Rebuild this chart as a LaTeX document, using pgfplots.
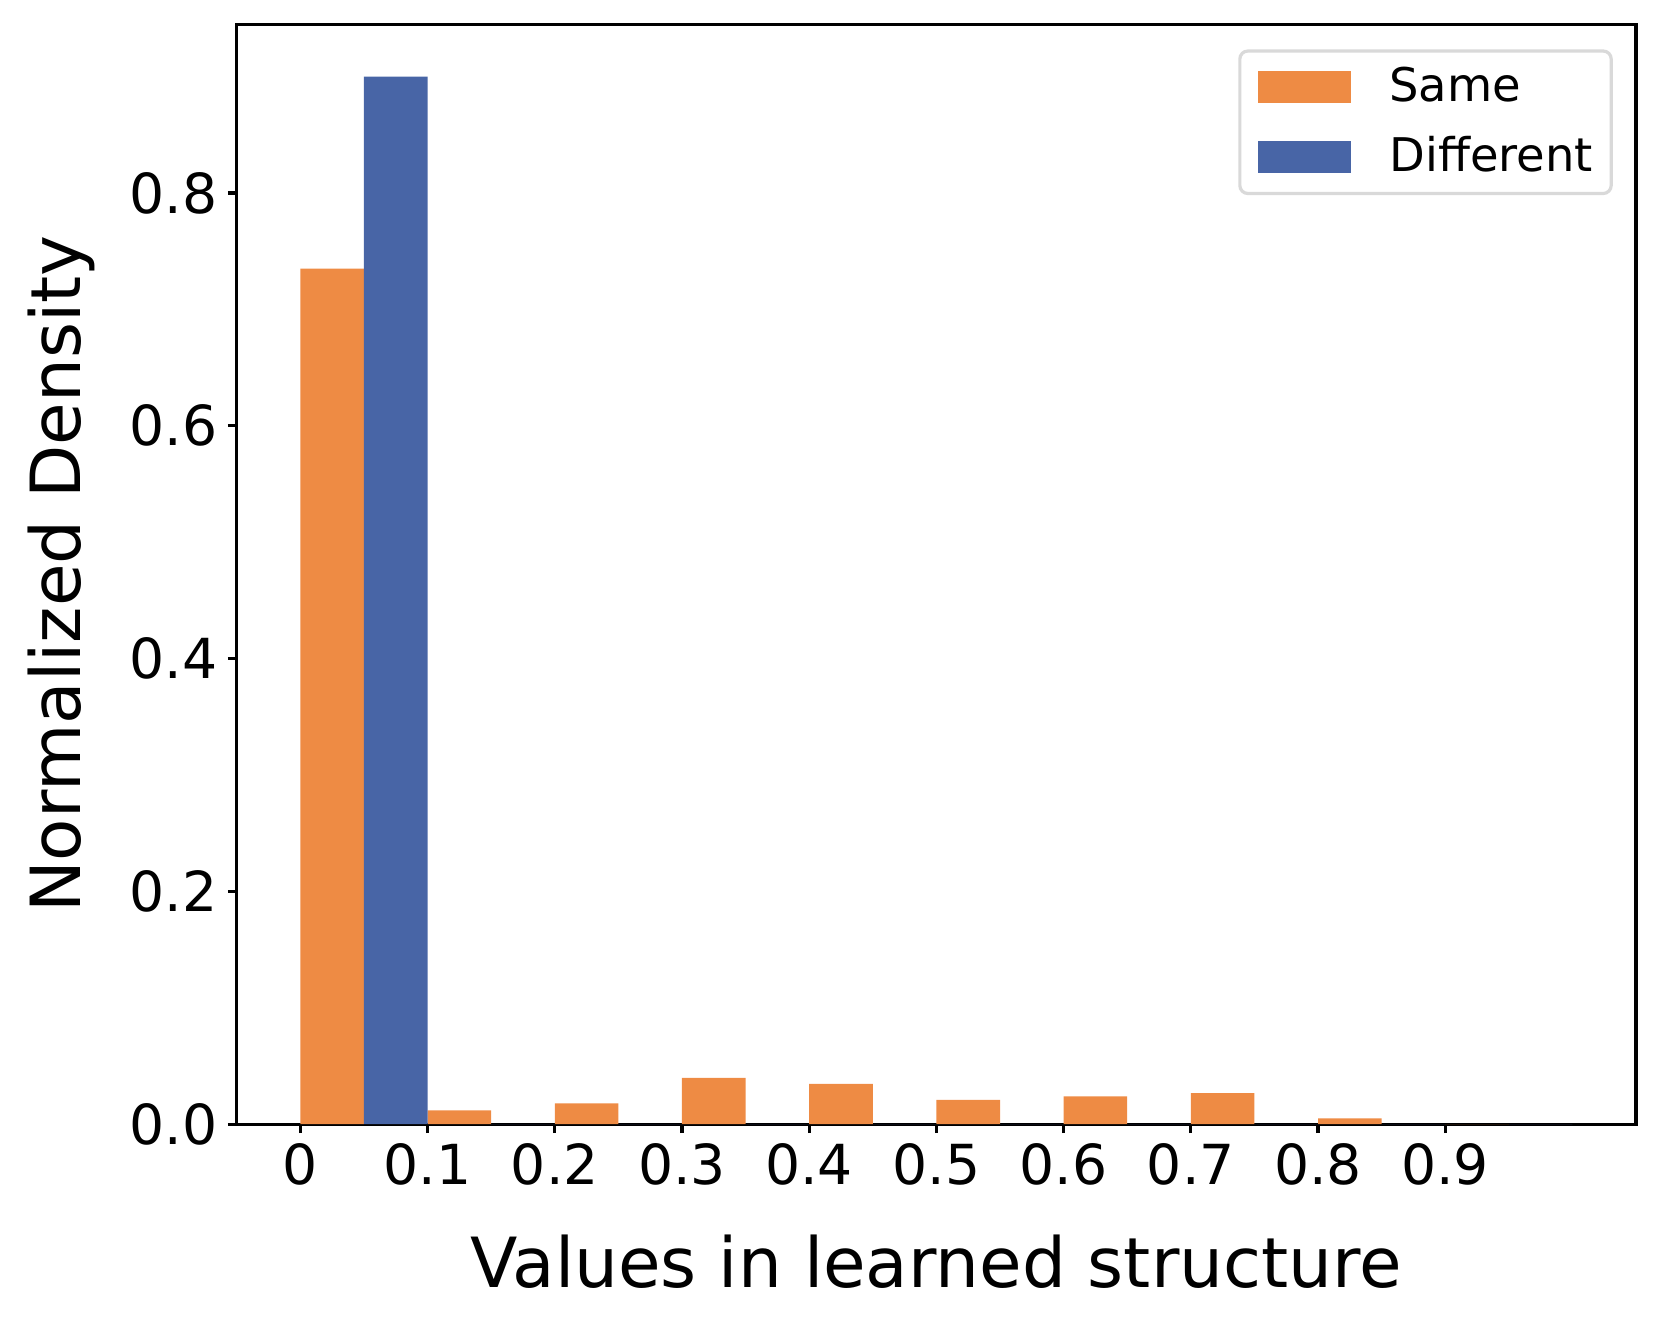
\documentclass[border=0pt]{standalone}
\usepackage{fontspec}
\setmainfont{DejaVu Sans}
\usepackage{pgfplots}
\pgfplotsset{compat=1.18}
\definecolor{sameorange}{RGB}{238,139,68}
\definecolor{diffblue}{RGB}{72,101,166}
\begin{document}
\begin{tikzpicture}
\begin{axis}[
    scale only axis,
    width=349.8pt, height=275pt,
    xmin=-0.05, xmax=1.05, ymin=0, ymax=0.945,
    ybar, bar width=0.05,
    axis line style={line width=0.8pt},
    tick style={line width=0.8pt, black},
    tick align=outside,
    major tick length=2.2pt,
    tick pos=left,
    xtick={0,0.1,0.2,0.3,0.4,0.5,0.6,0.7,0.8,0.9},
    xticklabels={0,0.1,0.2,0.3,0.4,0.5,0.6,0.7,0.8,0.9},
    ytick={0,0.2,0.4,0.6,0.8},
    /pgf/number format/assume math mode=true,
    yticklabel style={/pgf/number format/.cd, fixed, fixed zerofill, precision=1},
    ticklabel style={font=\fontsize{13.8}{16}\selectfont, inner sep=2.5pt},
    xlabel={Values in learned structure},
    ylabel={Normalized Density},
    label style={font=\fontsize{17.3}{20}\selectfont},
    xlabel style={at={(axis description cs:0.5,-0.125)}, anchor=center},
    ylabel style={at={(axis description cs:-0.125,0.5)}, anchor=center},
    legend cell align=left,
    legend style={at={(axis description cs:1,1)}, anchor=north east,
        xshift=-5.8pt, yshift=-6.3pt, draw=black!15, line width=0.8pt,
        rounded corners=2pt, font=\fontsize{11.6}{13}\selectfont,
        inner xsep=4.6pt, inner ysep=4pt,
        nodes={inner sep=0pt},
        column sep=9.6pt, row sep=7.2pt},
]
\addplot[fill=sameorange, draw=none, bar shift=0pt,
    legend image code/.code={\fill[sameorange, sharp corners] (0pt,-4.05pt) rectangle (23.2pt,4.05pt);}]
coordinates {(0.025,0.735) (0.125,0.0118) (0.225,0.0178) (0.325,0.0398) (0.425,0.0347)
             (0.525,0.0209) (0.625,0.0238) (0.725,0.0266) (0.825,0.0049) (0.925,0)};
\addplot[fill=diffblue, draw=none, bar shift=0pt,
    legend image code/.code={\fill[diffblue, sharp corners] (0pt,-4.05pt) rectangle (23.2pt,4.05pt);}]
coordinates {(0.075,0.900) (0.175,0) (0.275,0) (0.375,0) (0.475,0)
             (0.575,0) (0.675,0) (0.775,0) (0.875,0) (0.975,0)};
\legend{Same,Different}
\end{axis}
\path (-59.2pt,-51.2pt) rectangle (356.05pt,281.05pt);
\end{tikzpicture}
\end{document}
